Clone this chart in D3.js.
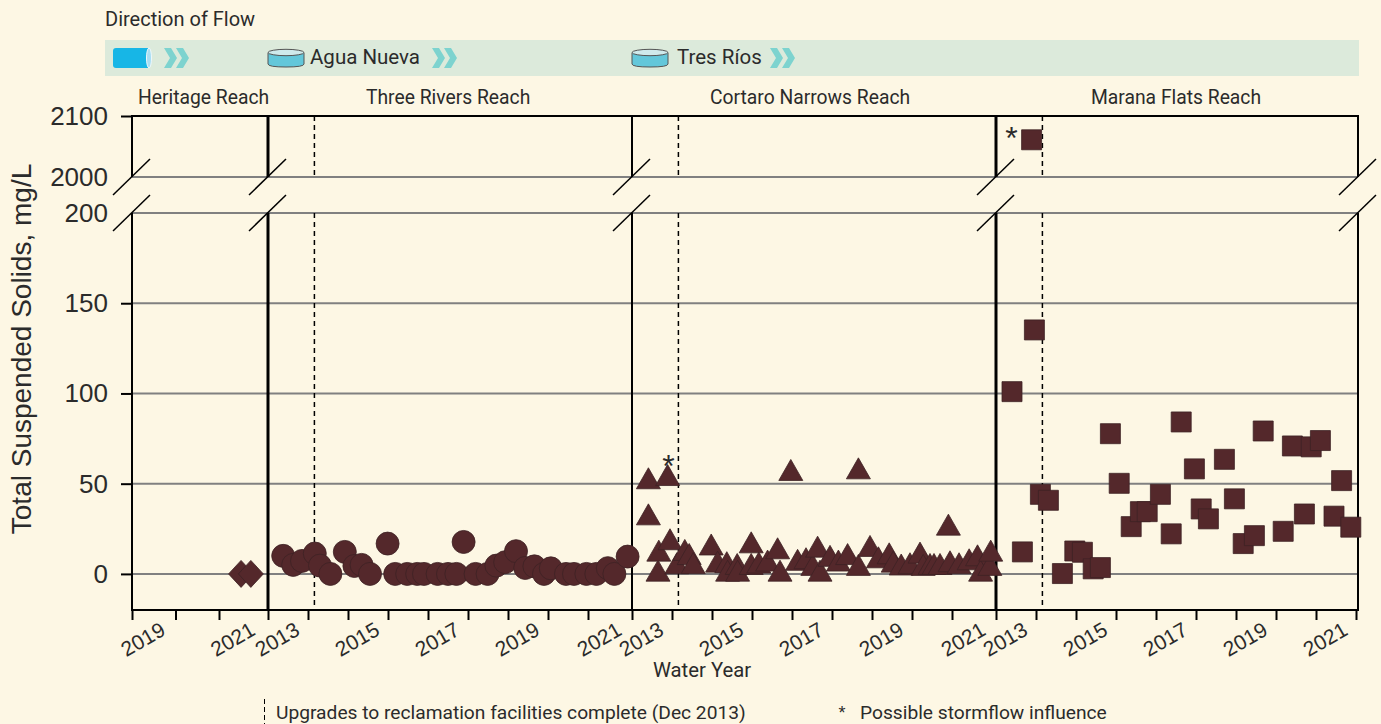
<!DOCTYPE html>
<html>
<head>
<meta charset="utf-8">
<script src="https://cdn.jsdelivr.net/npm/d3@7"></script>
<style>
  html, body { margin: 0; padding: 0; background: #fdf7e4; }
  svg { display: block; }
  text { font-family: "Liberation Sans", sans-serif; fill: #2b2b2b; }
  .note { font-family: Roboto, sans-serif; font-size: 19.3px; }
  .axis .domain { display: none; }
  .axis line { stroke: #000; stroke-width: 2; }
</style>
</head>
<body>
<svg id="vis" width="1381" height="724"></svg>
<script>
// Heritage Reach
var heritageYears = [2021.45, 2021.65];
var heritageValues = [0, 0];

// Three Rivers Reach
var riversYears = [2013.38, 2013.63, 2013.85, 2014.17, 2014.3, 2014.56, 2014.92, 2015.16, 2015.34, 2015.55, 2015.99, 2016.18, 2016.48, 2016.73, 2016.9, 2017.24, 2017.5, 2017.71, 2017.89, 2018.19, 2018.49, 2018.71, 2018.93, 2019.2, 2019.43, 2019.66, 2019.9, 2020.07, 2020.45, 2020.65, 2020.96, 2021.19, 2021.45, 2021.6, 2021.9];
var riversValues = [10, 5, 7.2, 11.3, 4.6, 0, 12.2, 4.4, 5, 0, 16.8, 0, 0, 0, 0, 0, 0, 0, 17.7, 0, 0, 4.6, 6.5, 12.6, 3.3, 4.2, 0, 3.1, 0, 0, 0, 0, 3.2, 0, 9.6];

// Cortaro Narrows Reach
var cortaroYears = [2013.41, 2013.41, 2013.89, 2013.65, 2013.67, 2013.95, 2014.12, 2014.32, 2014.43, 2014.53, 2014.98, 2015.14, 2015.37, 2015.39, 2015.63, 2015.64, 2015.98, 2015.98, 2016.17, 2016.39, 2016.64, 2016.7, 2016.97, 2017.14, 2017.35, 2017.52, 2017.64, 2017.7, 2017.95, 2018.16, 2018.39, 2018.66, 2018.66, 2018.95, 2019.16, 2019.43, 2019.53, 2019.73, 2019.95, 2020.2, 2020.28, 2020.45, 2020.55, 2020.7, 2020.91, 2020.95, 2021.16, 2021.39, 2021.58, 2021.65, 2021.86, 2021.88];
var cortaroValues = [53, 33, 54.8, 1.8, 12.9, 19.2, 5.9, 13.3, 11, 6, 16.3, 6.8, 6.5, 1.8, 5.5, 1.8, 17.5, 5.5, 6.3, 7.4, 14.2, 1.8, 57.6, 7.8, 8.7, 5, 15.1, 1.8, 10, 7.4, 11, 5, 58.5, 15.5, 9.2, 11.4, 6.8, 5.2, 5.9, 11.8, 5, 5.5, 5.5, 5.5, 27.3, 7, 5.9, 8.1, 10.3, 1.8, 5, 12.9];

// Marana Flats Reach
var maranaYears = [2013.4, 2013.66, 2013.96, 2014.11, 2014.31, 2014.66, 2014.97, 2015.16, 2015.43, 2015.61, 2015.86, 2016.08, 2016.38, 2016.61, 2016.78, 2017.11, 2017.38, 2017.63, 2017.96, 2018.13, 2018.31, 2018.71, 2018.96, 2019.18, 2019.46, 2019.68, 2020.18, 2020.41, 2020.71, 2020.88, 2021.11, 2021.45, 2021.64, 2021.87];
var maranaValues = [101, 12.2, 135.2, 44.1, 40.8, 0.2, 12.7, 12, 2.8, 3.5, 77.7, 50.2, 26.2, 34.5, 34.5, 44.1, 22.2, 84.2, 58.2, 36, 30.5, 63.5, 41.6, 16.8, 21.2, 79.2, 23.6, 70.9, 33.2, 70.4, 73.9, 32, 51.7, 25.9];
// the one sample above the axis break
var maranaHighYear = 2013.89;
var maranaHighValue = 2061;

var lowTicks = [0, 50, 100, 150, 200];
var highTicks = [2000, 2100];
var upgradeYear = 2014.16;
var stormYearCortaro = 2013.89;
var stormValueCortaro = 63;

var svg = d3.select('#vis');
var axisLeft = 132, axisRight = 1358;
var markColor = '#54282b', markEdge = '#3d2225';

/////////////////////////////////////////////////////////////////////
//                        SCALES                                   //
/////////////////////////////////////////////////////////////////////
var yLow = d3.scaleLinear().domain([-20, 200]).range([610, 213]);
var yHigh = d3.scaleLinear().domain([2000, 2100]).range([177, 116]);

var xHeritage = d3.scaleLinear().domain([2019, 2021, 2022]).range([132, 219, 268]);
var xRivers = d3.scaleLinear().domain([2013, 2021, 2022]).range([268, 588, 632]);
var xCortaro = d3.scaleLinear().domain([2013, 2021, 2022]).range([632, 952, 996]);
var xMarana = d3.scaleLinear().domain([2013, 2022]).range([996, 1356]);

var panelScales = [xHeritage, xRivers, xCortaro, xMarana];
var panelTicks = [[2019, 2020, 2021], d3.range(2013, 2022), d3.range(2013, 2022), d3.range(2013, 2023)];
var panelLabels = [[2019, 2021], [2013, 2015, 2017, 2019, 2021], [2013, 2015, 2017, 2019, 2021], [2013, 2015, 2017, 2019, 2021]];

/////////////////////////////////////////////////////////////////////
//                        FLOW BANNER                              //
/////////////////////////////////////////////////////////////////////
svg.append('text').attr('class', 'note').attr('x', 105).attr('y', 26).style('font-size', '20px').text('Direction of Flow');
svg.append('rect').attr('x', 105).attr('y', 40).attr('width', 1254).attr('height', 36).attr('fill', '#dceadb');

// pipe
svg.append('path').attr('d', 'M116,48H148V68H116Q113,68 113,65V51Q113,48 116,48Z').attr('fill', '#17b6e6');
svg.append('ellipse').attr('cx', 149).attr('cy', 58).attr('rx', 2.5).attr('ry', 10)
    .attr('fill', '#a9def3').attr('stroke', '#eef8fb');

function tank(x) {
    var g = svg.append('g').attr('transform', 'translate(' + x + ',0)');
    g.append('path').attr('d', 'M0,52.5V64Q0,67 18,67Q36,67 36,64V52.5')
        .attr('fill', '#63c7da').attr('stroke', '#555').attr('stroke-width', 1);
    g.append('ellipse').attr('cx', 18).attr('cy', 52.5).attr('rx', 18).attr('ry', 3.2)
        .attr('fill', '#cfeaec').attr('stroke', '#555').attr('stroke-width', 1);
}
function chevrons(x) {
    [0, 12].forEach(function(dx) {
        svg.append('path')
            .attr('d', 'M' + (x + dx) + ',48h7l6,10l-6,10h-7l6,-10z')
            .attr('fill', '#7dd3cf');
    });
}
chevrons(164);
tank(268);
svg.append('text').attr('class', 'note').attr('x', 310).attr('y', 64).style('font-size', '20.5px').text('Agua Nueva');
chevrons(432);
tank(632);
svg.append('text').attr('class', 'note').attr('x', 677).attr('y', 64).style('font-size', '20.5px').text('Tres Ríos');
chevrons(770);

// reach names
var reachNames = ['Heritage Reach', 'Three Rivers Reach', 'Cortaro Narrows Reach', 'Marana Flats Reach'];
var reachX = [138, 366, 710, 1091];
svg.selectAll('.reach').data(reachNames).enter().append('text')
    .attr('class', 'reach note')
    .attr('x', function(d, i) { return reachX[i]; })
    .attr('y', 104)
    .text(function(d) { return d; });

/////////////////////////////////////////////////////////////////////
//                        GRID LINES                               //
/////////////////////////////////////////////////////////////////////
svg.selectAll('.gridLow').data(lowTicks).enter().append('line')
    .attr('class', 'gridLow')
    .attr('x1', axisLeft).attr('x2', axisRight)
    .attr('y1', function(d) { return yLow(d); })
    .attr('y2', function(d) { return yLow(d); })
    .attr('stroke', '#808080').attr('stroke-width', 2);

svg.append('line')
    .attr('x1', axisLeft).attr('x2', axisRight)
    .attr('y1', yHigh(2000)).attr('y2', yHigh(2000))
    .attr('stroke', '#808080').attr('stroke-width', 2);

/////////////////////////////////////////////////////////////////////
//                        Y AXES                                   //
/////////////////////////////////////////////////////////////////////
svg.append('g')
    .attr('class', 'y axis')
    .attr('transform', 'translate(' + axisLeft + ',0)')
    .call(d3.axisLeft(yLow).tickValues(lowTicks).tickFormat(d3.format('d')).tickSize(11).tickPadding(13))
    .call(function(g) { g.selectAll('.tick').filter(function(d) { return d === 200; }).select('line').remove(); })
    .call(function(g) { g.selectAll('text').attr('font-size', 26).style('font-family', '"Liberation Sans"'); });

svg.append('g')
    .attr('class', 'y axis')
    .attr('transform', 'translate(' + axisLeft + ',0)')
    .call(d3.axisLeft(yHigh).tickValues(highTicks).tickFormat(d3.format('d')).tickSize(11).tickPadding(13))
    .call(function(g) { g.selectAll('.tick').filter(function(d) { return d === 2000; }).select('line').remove(); })
    .call(function(g) { g.selectAll('text').attr('font-size', 26).style('font-family', '"Liberation Sans"'); });

svg.append('text')
    .attr('transform', 'translate(31,349) rotate(-90)')
    .attr('text-anchor', 'middle')
    .attr('font-size', 28)
    .text('Total Suspended Solids, mg/L');

/////////////////////////////////////////////////////////////////////
//                        FRAME AND BREAKS                         //
/////////////////////////////////////////////////////////////////////
var dividers = [132, 268, 632, 996, 1358];
var dividerWidth = [2, 3, 2, 3, 2];

svg.selectAll('.divHigh').data(dividers).enter().append('line')
    .attr('class', 'divHigh')
    .attr('x1', function(d) { return d; }).attr('x2', function(d) { return d; })
    .attr('y1', yHigh(2100)).attr('y2', yHigh(2000))
    .attr('stroke', '#000').attr('stroke-width', function(d, i) { return dividerWidth[i]; });

svg.selectAll('.divLow').data(dividers).enter().append('line')
    .attr('class', 'divLow')
    .attr('x1', function(d) { return d; }).attr('x2', function(d) { return d; })
    .attr('y1', yLow(200)).attr('y2', yLow(-20))
    .attr('stroke', '#000').attr('stroke-width', function(d, i) { return dividerWidth[i]; });

svg.append('line').attr('x1', axisLeft - 1).attr('x2', axisRight + 1)
    .attr('y1', yHigh(2100)).attr('y2', yHigh(2100)).attr('stroke', '#000').attr('stroke-width', 2);
svg.append('line').attr('x1', axisLeft - 1).attr('x2', axisRight + 1)
    .attr('y1', yLow(-20)).attr('y2', yLow(-20)).attr('stroke', '#000').attr('stroke-width', 2);

[yHigh(2000), yLow(200)].forEach(function(y) {
    dividers.forEach(function(x) {
        svg.append('line')
            .attr('x1', x - 19).attr('y1', y + 18)
            .attr('x2', x + 18).attr('y2', y - 18)
            .attr('stroke', '#000').attr('stroke-width', 1.5);
    });
});

// upgrade date, dashed, in both parts of the axis
panelScales.slice(1).forEach(function(x) {
    [[yHigh(2100), yHigh(2000)], [yLow(200), yLow(-20)]].forEach(function(r) {
        svg.append('line')
            .attr('x1', x(upgradeYear)).attr('x2', x(upgradeYear))
            .attr('y1', r[0]).attr('y2', r[1])
            .attr('stroke', '#000').attr('stroke-width', 1.5)
            .attr('stroke-dasharray', '5,4');
    });
});

/////////////////////////////////////////////////////////////////////
//                        X AXES                                   //
/////////////////////////////////////////////////////////////////////
panelScales.forEach(function(x, i) {
    svg.append('g')
        .attr('class', 'x axis')
        .attr('transform', 'translate(0,' + yLow(-20) + ')')
        .call(d3.axisBottom(x).tickValues(panelTicks[i]).tickSize(10).tickFormat(''));

    svg.selectAll('.yearLabel' + i).data(panelLabels[i]).enter().append('text')
        .attr('class', 'yearLabel' + i)
        .attr('text-anchor', 'end')
        .attr('font-size', 21)
        .attr('transform', function(d) {
            return 'translate(' + (x(d + 0.5) + 13) + ',634) rotate(-30)';
        })
        .text(function(d) { return d; });
});

svg.append('text').attr('class', 'note').attr('x', 702).attr('y', 677)
    .attr('text-anchor', 'middle').style('font-size', '20.3px').text('Water Year');

/////////////////////////////////////////////////////////////////////
//                        MARKS                                    //
/////////////////////////////////////////////////////////////////////
// bounding box centred, as the markers in the picture are
var triangleMark = {
    draw: function(context) {
        context.moveTo(0, -10.5);
        context.lineTo(12, 10.5);
        context.lineTo(-12, 10.5);
        context.closePath();
    }
};
var diamondMark = {
    draw: function(context) {
        context.moveTo(0, -13.5);
        context.lineTo(12.5, 0);
        context.lineTo(0, 13.5);
        context.lineTo(-12.5, 0);
        context.closePath();
    }
};
var squareMark = {
    draw: function(context) {
        context.rect(-10, -10, 20, 20);
    }
};
var circleMark = {
    draw: function(context) {
        context.moveTo(11.5, 0);
        context.arc(0, 0, 11.5, 0, 2 * Math.PI);
    }
};

function drawMarks(years, values, x, y, mark) {
    svg.append('g').selectAll('path').data(years).enter().append('path')
        .attr('d', d3.symbol().type(mark))
        .attr('transform', function(d, i) { return 'translate(' + x(d) + ',' + y(values[i]) + ')'; })
        .attr('fill', markColor)
        .attr('stroke', markEdge)
        .attr('stroke-width', 0.8);
}

drawMarks(heritageYears, heritageValues, xHeritage, yLow, diamondMark);
drawMarks(riversYears, riversValues, xRivers, yLow, circleMark);
drawMarks(cortaroYears, cortaroValues, xCortaro, yLow, triangleMark);
drawMarks(maranaYears, maranaValues, xMarana, yLow, squareMark);
drawMarks([maranaHighYear], [maranaHighValue], xMarana, yHigh, squareMark);

// storm flags
svg.append('text').attr('x', xCortaro(stormYearCortaro) + 1).attr('y', yLow(stormValueCortaro) + 17)
    .attr('text-anchor', 'middle').attr('font-size', 32).text('*');
svg.append('text').attr('x', xMarana(maranaHighYear) - 20).attr('y', yHigh(maranaHighValue) + 9)
    .attr('text-anchor', 'middle').attr('font-size', 32).text('*');

/////////////////////////////////////////////////////////////////////
//                        FOOT NOTES                               //
/////////////////////////////////////////////////////////////////////
svg.append('line').attr('x1', 264.5).attr('x2', 264.5).attr('y1', 699).attr('y2', 724)
    .attr('stroke', '#000').attr('stroke-width', 1).attr('stroke-dasharray', '5,3');
svg.append('text').attr('class', 'note').attr('x', 276).attr('y', 718.5)
    .style('font-size', '19.2px').text('Upgrades to reclamation facilities complete (Dec 2013)');
svg.append('text').attr('x', 842).attr('y', 719).attr('text-anchor', 'middle').attr('font-size', 18).text('*');
svg.append('text').attr('class', 'note').attr('x', 860).attr('y', 718.5)
    .style('font-size', '19.2px').text('Possible stormflow influence');
</script>
</body>
</html>
